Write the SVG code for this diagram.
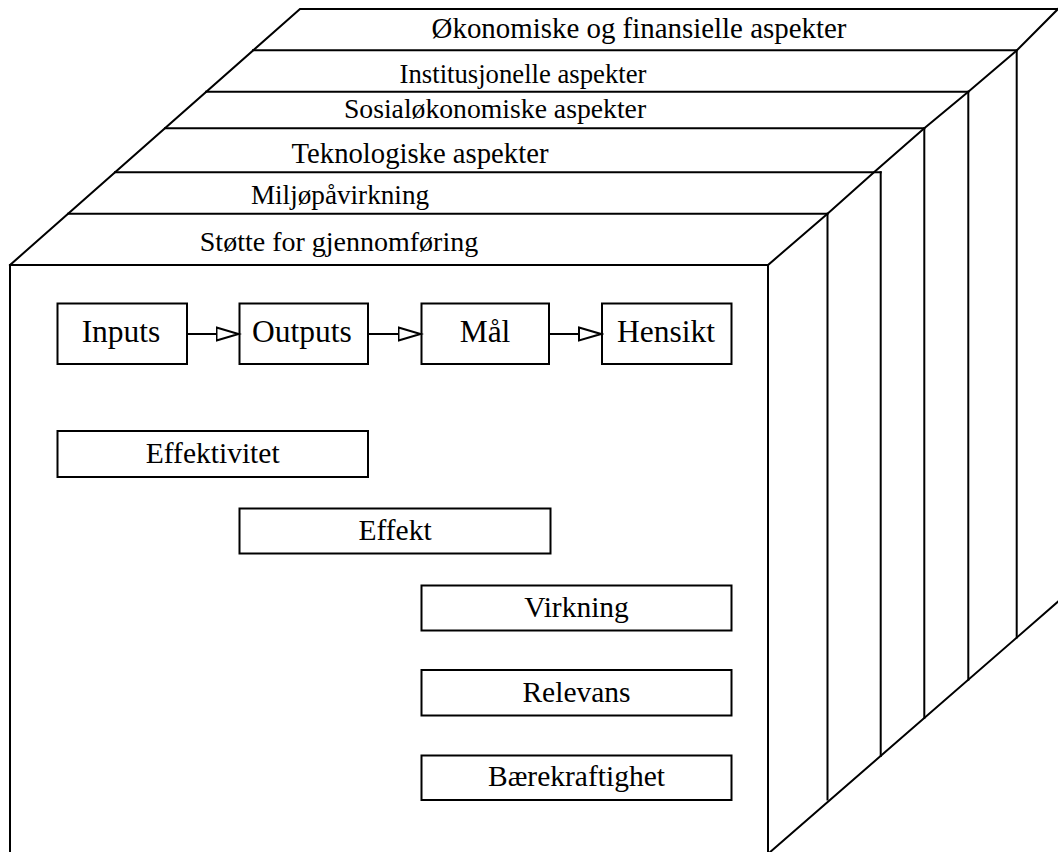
<svg xmlns="http://www.w3.org/2000/svg" width="1058" height="852" viewBox="0 0 1058 852">
  <defs>
    <marker id="arrow" markerUnits="userSpaceOnUse" markerWidth="26" markerHeight="18" refX="23" refY="8" orient="auto">
      <path d="M1,1.5 L23,8 L1,14.5 Z" fill="#fff" stroke="#000" stroke-width="2" stroke-linejoin="miter"/>
    </marker>
    <style>
      .edge{fill:none;stroke:#000;stroke-width:2;stroke-linecap:square;stroke-linejoin:miter}
      .box{fill:#fff;stroke:#000;stroke-width:2}
      .conn{fill:none;stroke:#000;stroke-width:2}
      text{font-family:"Liberation Serif","Times New Roman",serif;fill:#000;text-anchor:middle}
      .main{font-size:31.5px}
      .sub{font-size:29.5px}
    </style>
  </defs>

  <rect width="1058" height="852" fill="#fff"/>

  <!-- cube outline: front face, top and right side -->
  <g id="frame">
    <path class="edge" d="M10,852 V265 H768 V852"/>
    <path class="edge" d="M10,265 L300,9 H1058"/>
    <path class="edge" d="M768,265 L827.5,213.7 L874,172.3 L924.3,128.3 L968.3,91.7 L1016.7,50.5 L1058,9"/>
    <path class="edge" d="M768,853.9 L1058,601.7"/>
    <!-- side walls of the stacked layers -->
    <path class="edge" d="M827.5,213.7 V799.5 M880.7,172.3 V755.9 M924.3,128.3 V717.9 M968.3,91.7 V679.7 M1016.7,50.5 V637.6"/>
  </g>

  <!-- stacked layers on top of the cube -->
  <g id="layer-okonomiske">
    <path class="edge" d="M253,50.3 H1016.7"/>
    <text x="639" y="38" font-size="28.9">Økonomiske og finansielle aspekter</text>
  </g>
  <g id="layer-institusjonelle">
    <path class="edge" d="M206,91.7 H968.3"/>
    <text x="523" y="83" font-size="26.7">Institusjonelle aspekter</text>
  </g>
  <g id="layer-sosialokonomiske">
    <path class="edge" d="M165,128.3 H924.3"/>
    <text x="495" y="118" font-size="27.7">Sosialøkonomiske aspekter</text>
  </g>
  <g id="layer-teknologiske">
    <path class="edge" d="M115,172.3 H880.7"/>
    <text x="420" y="163" font-size="28.7">Teknologiske aspekter</text>
  </g>
  <g id="layer-miljo">
    <path class="edge" d="M68,213.7 H827.5"/>
    <text x="340" y="204" font-size="27.2">Miljøpåvirkning</text>
  </g>
  <g id="layer-stotte">
    <text x="339" y="250.5" font-size="28">Støtte for gjennomføring</text>
  </g>

  <!-- result chain -->
  <g id="inputs">
    <rect class="box" x="57.5" y="303.5" width="129.5" height="60.5"/>
    <text class="main" x="121" y="341.7">Inputs</text>
  </g>
  <g id="outputs">
    <rect class="box" x="239.5" y="303.5" width="128.5" height="60.5"/>
    <text class="main" x="302" y="341.7">Outputs</text>
  </g>
  <g id="mal">
    <rect class="box" x="421.5" y="303.5" width="127.5" height="60.5"/>
    <text class="main" x="485" y="341.7">Mål</text>
  </g>
  <g id="hensikt">
    <rect class="box" x="602" y="303.5" width="129.5" height="60.5"/>
    <text class="main" x="666" y="341.7">Hensikt</text>
  </g>

  <g id="connectors">
    <line class="conn" x1="187" y1="334" x2="238.5" y2="334" marker-end="url(#arrow)"/>
    <line class="conn" x1="368" y1="334" x2="420.5" y2="334" marker-end="url(#arrow)"/>
    <line class="conn" x1="549" y1="334" x2="601" y2="334" marker-end="url(#arrow)"/>
  </g>

  <!-- evaluation criteria -->
  <g id="effektivitet">
    <rect class="box" x="57.5" y="431" width="310.5" height="46"/>
    <text class="sub" x="212.7" y="462.5">Effektivitet</text>
  </g>
  <g id="effekt">
    <rect class="box" x="239.5" y="508.5" width="311" height="45"/>
    <text class="sub" x="395" y="539.5">Effekt</text>
  </g>
  <g id="virkning">
    <rect class="box" x="421.5" y="585.5" width="310" height="45"/>
    <text class="sub" x="576.5" y="616.7">Virkning</text>
  </g>
  <g id="relevans">
    <rect class="box" x="421.5" y="670" width="310" height="45.5"/>
    <text class="sub" x="576.5" y="701.5">Relevans</text>
  </g>
  <g id="baerekraftighet">
    <rect class="box" x="421.5" y="755.5" width="310" height="44.5"/>
    <text class="sub" x="576.5" y="786">Bærekraftighet</text>
  </g>
</svg>
